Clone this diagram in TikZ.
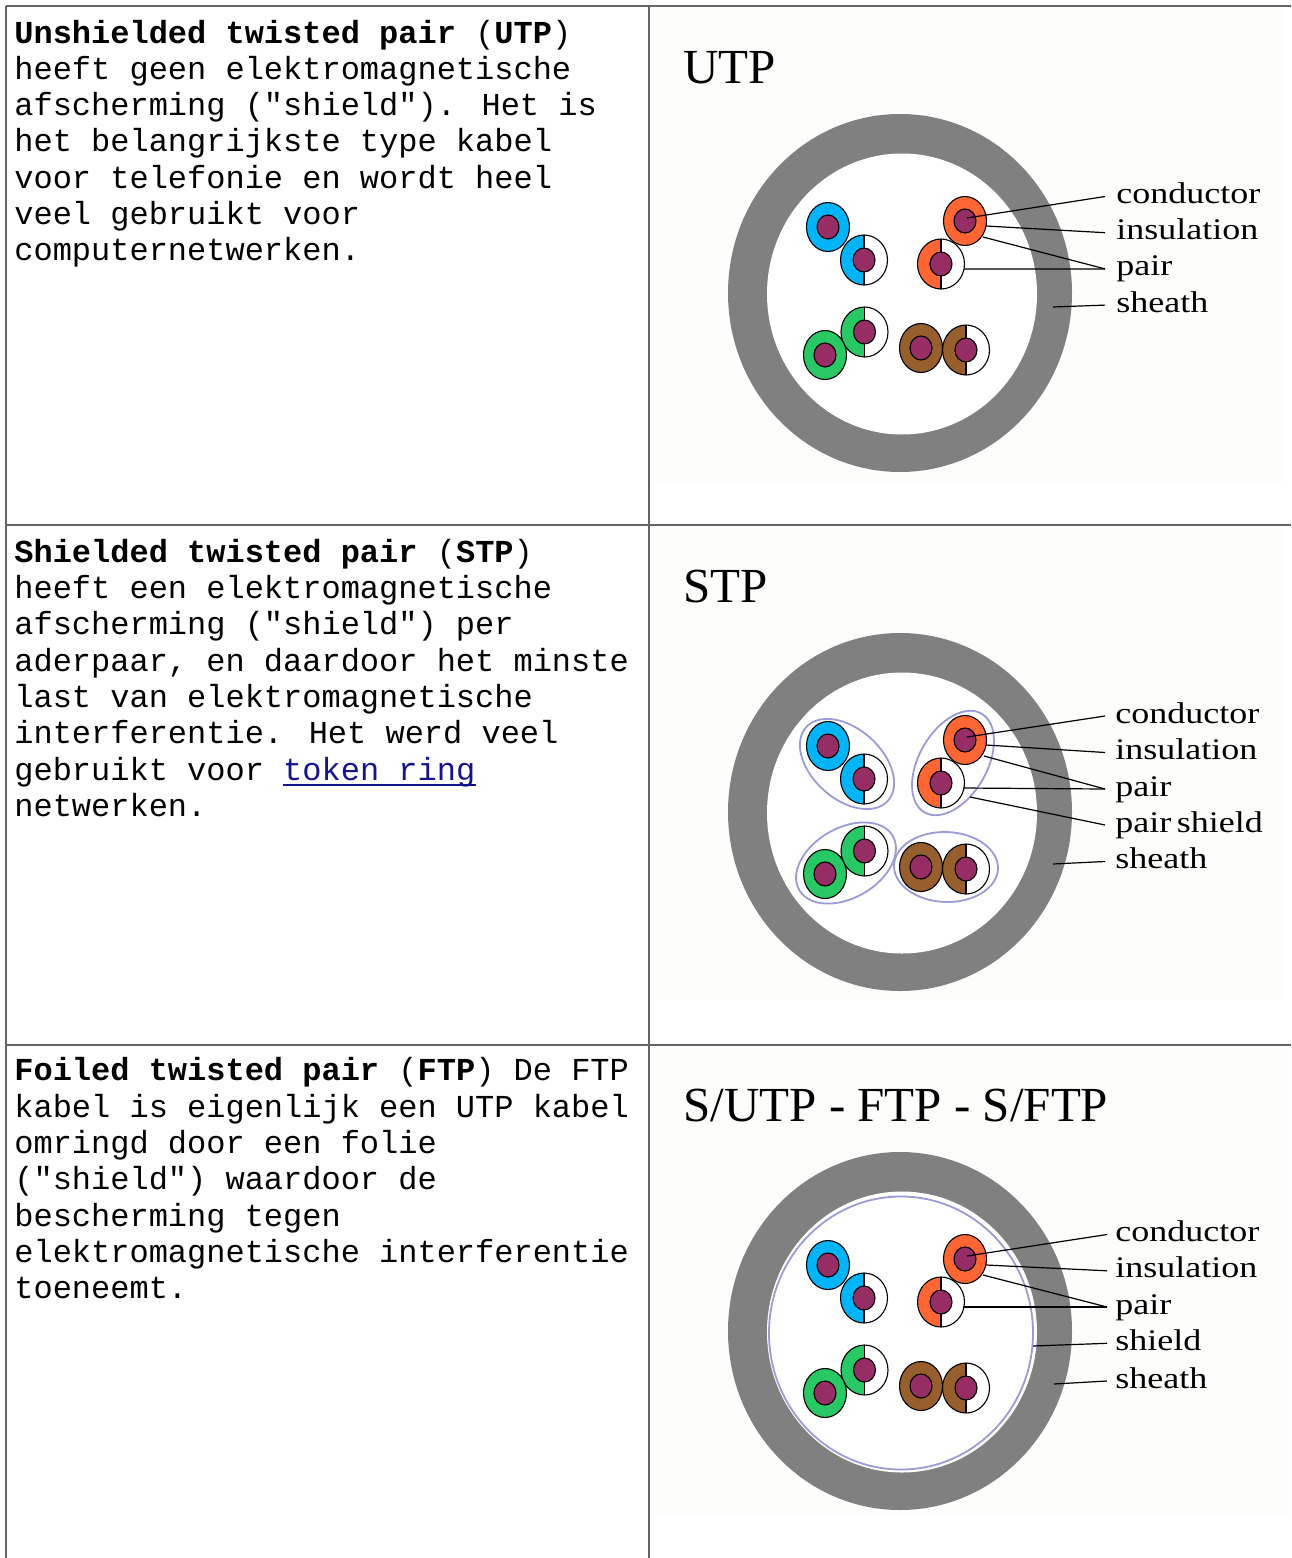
\documentclass[tikz,border=0pt]{standalone}
\usepackage{fontspec}
\setmainfont{Liberation Serif}
\newfontfamily\monofnt{Liberation Mono}
\newfontfamily\lblfnt[FakeStretch=1.2]{Liberation Serif}
\newfontfamily\ttlfnt{Liberation Serif}
\definecolor{gridc}{RGB}{100,100,100}
\definecolor{imgbg}{RGB}{253,253,251}
\definecolor{sheathc}{RGB}{128,128,128}
\definecolor{bluec}{RGB}{0,180,250}
\definecolor{orangec}{RGB}{255,102,51}
\definecolor{greenc}{RGB}{40,200,100}
\definecolor{brownc}{RGB}{150,95,45}
\definecolor{condc}{RGB}{150,45,100}
\definecolor{shieldc}{RGB}{155,155,215}
\definecolor{linkc}{RGB}{20,20,140}
\newcommand\wsolid[3]{%
  \filldraw[fill=#3, wline] (#1,#2) ellipse [x radius=21.5, y radius=24.5];
  \filldraw[fill=condc, wline] (#1,#2) ellipse [x radius=11, y radius=12];
}
\newcommand\whalf[3]{%
  \fill[white] (#1,#2) ellipse [x radius=23.5, y radius=25];
  \begin{scope}
    \clip (#1-30,#2-30) rectangle (#1,#2+30);
    \fill[#3] (#1,#2) ellipse [x radius=23.5, y radius=25];
  \end{scope}
  \draw[wline] (#1,#2) ellipse [x radius=23.5, y radius=25];
  \draw[wline] (#1,#2-25) -- (#1,#2+25);
  \filldraw[fill=condc, wline] (#1,#2) ellipse [x radius=11, y radius=12];
}
\begin{document}
\begin{tikzpicture}[x=0.5pt,y=-0.5pt,
  grid/.style={draw=gridc, line width=1pt},
  wline/.style={draw=black, line width=0.55pt},
  txt/.style={anchor=base west, inner sep=0pt, font=\monofnt\fontsize{16}{18}\selectfont},
  ttl/.style={anchor=base west, inner sep=0pt, font=\ttlfnt\fontsize{24.5}{28}\selectfont},
  lbl/.style={anchor=base west, inner sep=0pt, text height=7pt, text depth=0pt, font=\lblfnt\fontsize{15}{18}\selectfont},
  leader/.style={draw=black, line width=0.6pt},
  pshield/.style={draw=shieldc, line width=0.9pt}]
\useasboundingbox (0,0) rectangle (1291,1558);
\fill[white] (0,0) rectangle (1291,1558);
% image backgrounds
\fill[imgbg] (651,8) rectangle (1285,485);
\fill[imgbg] (651,527) rectangle (1285,1000);
\fill[imgbg] (655,1047) rectangle (1289,1518);
% table grid
\draw[grid] (6,6) -- (1291,6);
\draw[grid] (6,6) -- (6,1558);
\draw[grid] (649,6) -- (649,1558);
\draw[grid] (6,525) -- (1291,525);
\draw[grid] (6,1045) -- (1291,1045);

% cables
\foreach \dy in {0,519,1038} {
  \fill[sheathc] (900,293+\dy) ellipse [x radius=172, y radius=179];
  \fill[white] (902,294+\dy) ellipse [x radius=135, y radius=140.5];
}
\draw[pshield] (901,1333) ellipse [x radius=132, y radius=136.5];
\foreach \dy in {0,519,1038} {
  \wsolid{828}{227+\dy}{bluec}
  \whalf{864}{260+\dy}{bluec}
  \wsolid{965}{221+\dy}{orangec}
  \whalf{941}{264+\dy}{orangec}
  \whalf{864.5}{332+\dy}{greenc}
  \wsolid{825}{355+\dy}{greenc}
  \wsolid{921}{348+\dy}{brownc}
  \whalf{966}{350+\dy}{brownc}
}
% pair shields (STP)
\draw[pshield, shift={(847,764)}, rotate=-42] (0,0) ellipse [x radius=55, y radius=35];
\draw[pshield, shift={(953,763)}, rotate=60] (0,0) ellipse [x radius=57, y radius=34];
\draw[pshield, shift={(846,863)}, rotate=30] (0,0) ellipse [x radius=54, y radius=35];
\draw[pshield, shift={(946,867)}, rotate=-2] (0,0) ellipse [x radius=52, y radius=35];

% titles
\node[ttl] (tu) at (683,83) {UTP};
\node[ttl] (ts) at (683,602) {STP};
\node[ttl] (tf) at (683,1121) {S/UTP - FTP - S/FTP};

% labels UTP
\node[lbl] (ulc) at (1116,203.5) {conductor};
\node[lbl] (uli) at (1116,239.7) {insulation};
\node[lbl] (ulp) at (1116,275.9) {pair};
\node[lbl] (uls) at (1116,312.1) {sheath};
\coordinate (uC) at (967,218);
\coordinate (uI) at (986,226);
\coordinate (uP1) at (983,237);
\coordinate (uP2) at (964,269);
\coordinate (uS) at (1053,307);
\draw[leader] (uC) -- ([xshift=-5.5pt]ulc.west);
\draw[leader] (uI) -- ([xshift=-5.5pt]uli.west);
\draw[leader] (uP1) -- ([xshift=-5.5pt]ulp.west);
\draw[leader] (uP2) -- ([xshift=-5.5pt]ulp.west);
\draw[leader] (uS) -- ([xshift=-5.5pt]uls.west);

% labels STP
\node[lbl] (slc) at (1115,723) {conductor};
\node[lbl] (sli) at (1115,759.5) {insulation};
\node[lbl] (slp) at (1115,796) {pair};
\node[lbl] (slps) at (1115,832) {pair\hspace{0.18em}shield};
\node[lbl] (sls) at (1115,868.5) {sheath};
\coordinate (sC) at (967,737);
\coordinate (sI) at (986,745);
\coordinate (sP1) at (984,756);
\coordinate (sP2) at (963,788);
\coordinate (sPS) at (970,797);
\coordinate (sS) at (1053,864);
\draw[leader] (sC) -- ([xshift=-5pt]slc.west);
\draw[leader] (sI) -- ([xshift=-5pt]sli.west);
\draw[leader] (sP1) -- ([xshift=-5pt]slp.west);
\draw[leader] (sP2) -- ([xshift=-5pt]slp.west);
\draw[leader] (sPS) -- ([xshift=-5pt]slps.west);
\draw[leader] (sS) -- ([xshift=-5pt]sls.west);

% labels FTP
\node[lbl] (flc) at (1115,1241.5) {conductor};
\node[lbl] (fli) at (1115,1277.8) {insulation};
\node[lbl] (flp) at (1115,1314) {pair};
\node[lbl] (flsh) at (1115,1350.3) {shield};
\node[lbl] (fls) at (1115,1388) {sheath};
\coordinate (fC) at (967,1256);
\coordinate (fI) at (986,1265);
\coordinate (fP1) at (983,1275);
\coordinate (fP2) at (963,1307);
\coordinate (fSh) at (1033,1346);
\coordinate (fS) at (1054,1384);
\draw[leader] (fC) -- ([xshift=-4pt]flc.west);
\draw[leader] (fI) -- ([xshift=-4pt]fli.west);
\draw[leader] (fP1) -- ([xshift=-4pt]flp.west);
\draw[leader] (fP2) -- ([xshift=-4pt]flp.west);
\draw[leader] (fSh) -- ([xshift=-4pt]flsh.west);
\draw[leader] (fS) -- ([xshift=-4pt]fls.west);

% text UTP
\node[txt] (u0) at (14,43) {\textbf{Unshielded twisted pair} (\textbf{UTP})};
\node[txt] (u1) at (14,79.3) {heeft geen elektromagnetische};
\node[txt] (u2) at (14,115.6) {afscherming ("shield"). Het is};
\node[txt] (u3) at (14,151.9) {het belangrijkste type kabel};
\node[txt] (u4) at (14,188.2) {voor telefonie en wordt heel};
\node[txt] (u5) at (14,224.5) {veel gebruikt voor};
\node[txt] (u6) at (14,260.8) {computernetwerken.};

% text STP
\node[txt] (s0) at (14,562.3) {\textbf{Shielded twisted pair} (\textbf{STP})};
\node[txt] (s1) at (14,598.6) {heeft een elektromagnetische};
\node[txt] (s2) at (14,634.9) {afscherming ("shield") per};
\node[txt] (s3) at (14,671.2) {aderpaar, en daardoor het minste};
\node[txt] (s4) at (14,707.5) {last van elektromagnetische};
\node[txt] (s5) at (14,743.8) {interferentie. Het werd veel};
\node[txt] (s6) at (14,780.1) {gebruikt voor};
\node[txt, text=linkc] (lk) at (282.8,780.1) {token ring~};
\draw[linkc, line width=0.65pt] ([yshift=-2.5pt]lk.base west) -- ([yshift=-2.5pt]lk.base east);
\node[txt] (s7) at (14,816.4) {netwerken.};

% text FTP
\node[txt] (f0) at (14,1080.8) {\textbf{Foiled twisted pair} (\textbf{FTP}) De FTP};
\node[txt] (f1) at (14,1117.1) {kabel is eigenlijk een UTP kabel};
\node[txt] (f2) at (14,1153.4) {omringd door een folie};
\node[txt] (f3) at (14,1189.7) {("shield") waardoor de};
\node[txt] (f4) at (14,1226) {bescherming tegen};
\node[txt] (f5) at (14,1262.3) {elektromagnetische interferentie};
\node[txt] (f6) at (14,1298.6) {toeneemt.};
\end{tikzpicture}
\end{document}
